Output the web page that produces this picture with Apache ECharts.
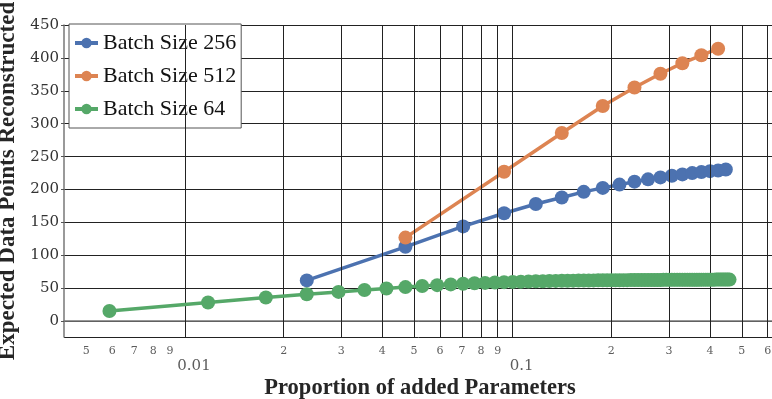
<!DOCTYPE html>
<html>
<head>
<meta charset="utf-8">
<script src="https://cdn.jsdelivr.net/npm/echarts@6/dist/echarts.min.js"></script>
<style>html,body{margin:0;padding:0;background:#fff}#c{width:772px;height:399px}</style>
</head>
<body>
<div id="c"></div>
<script>
// ---- data ----
const seriesNames = ['Batch Size 256', 'Batch Size 512', 'Batch Size 64'];
const colors = ['#4C72B0', '#DD8452', '#55A868'];

const x256 = [0.02353, 0.04706, 0.07059, 0.09412, 0.11765, 0.14118, 0.16471, 0.18824, 0.21176, 0.23529,
              0.25882, 0.28235, 0.30588, 0.32941, 0.35294, 0.37647, 0.4, 0.42353, 0.44706];
const y256 = [62, 113, 144, 164, 178, 188, 196.5, 202.5, 207.5, 212,
              215.5, 218.5, 221, 223, 225, 226.5, 228, 229, 230.5];

const x512 = [0.04706, 0.09412, 0.14118, 0.18824, 0.23529, 0.28235, 0.32941, 0.37647, 0.42353];
const y512 = [127, 227, 286, 327, 355, 376, 392, 404, 414];

const x64 = [0.00588, 0.01176, 0.01765, 0.02353, 0.02941, 0.03529, 0.04118, 0.04706, 0.05294, 0.05882,
             0.06471, 0.07059, 0.07647, 0.08235, 0.08824, 0.09412, 0.1, 0.10588, 0.11176, 0.11765,
             0.12353, 0.12941, 0.13529, 0.14118, 0.14706, 0.15294, 0.15882, 0.16471, 0.17059, 0.17647,
             0.18235, 0.18824, 0.19412, 0.2, 0.20588, 0.21176, 0.21765, 0.22353, 0.22941, 0.23529,
             0.24118, 0.24706, 0.25294, 0.25882, 0.26471, 0.27059, 0.27647, 0.28235, 0.28824, 0.29412,
             0.3, 0.30588, 0.31176, 0.31765, 0.32353, 0.32941, 0.33529, 0.34118, 0.34706, 0.35294,
             0.35882, 0.36471, 0.37059, 0.37647, 0.38235, 0.38824, 0.39412, 0.4, 0.40588, 0.41176,
             0.41765, 0.42353, 0.42941, 0.43529, 0.44118, 0.44706, 0.45294, 0.45882];
const y64 = [15.5, 28.5, 36.0, 41.0, 44.5, 47.3, 49.7, 51.8, 53.4, 54.8,
             55.9, 56.8, 57.6, 58.2, 58.8, 59.3, 59.7, 60.0, 60.3, 60.6,
             60.8, 61.0, 61.2, 61.4, 61.5, 61.6, 61.7, 61.8, 61.9, 62.0,
             62.1, 62.1, 62.2, 62.2, 62.3, 62.3, 62.4, 62.4, 62.5, 62.5,
             62.5, 62.6, 62.6, 62.6, 62.7, 62.7, 62.7, 62.7, 62.8, 62.8,
             62.8, 62.8, 62.9, 62.9, 62.9, 62.9, 62.9, 63.0, 63.0, 63.0,
             63.0, 63.0, 63.0, 63.1, 63.1, 63.1, 63.1, 63.1, 63.1, 63.1,
             63.2, 63.2, 63.2, 63.2, 63.2, 63.2, 63.2, 63.2];

const minorTicks = [0.005, 0.006, 0.007, 0.008, 0.009, 0.02, 0.03, 0.04, 0.05, 0.06, 0.07, 0.08, 0.09,
                    0.2, 0.3, 0.4, 0.5, 0.6];
const minorTickLabels = ['5', '6', '7', '8', '9', '2', '3', '4', '5', '6', '7', '8', '9',
                         '2', '3', '4', '5', '6'];
const majorTicks = [0.01, 0.1];
const majorTickLabels = ['0.01', '0.1'];

const X_MIN = 0.004273, X_MAX = 0.636;
const Y_MIN = -24, Y_MAX = 450;

// ---- chart ----
const chart = echarts.init(document.getElementById('c'), null, {renderer: 'canvas'});
const zip = (xs, ys) => xs.map((x, i) => [x, ys[i]]);
const dataSeries = [[x256, y256], [x512, y512], [x64, y64]].map((d, i) => ({
  name: seriesNames[i],
  type: 'line',
  data: zip(d[0], d[1]),
  symbol: 'circle',
  symbolSize: 14,
  showSymbol: true,
  color: colors[i],
  lineStyle: {width: 3.5, color: colors[i]},
  itemStyle: {color: colors[i]},
  z: 3 + i,
  animation: false
}));

const tickLabelSeries = (ticks, labels, size, dist, dx) => ({
  type: 'scatter',
  silent: true,
  clip: false,
  symbolSize: 0,
  z: 1,
  data: ticks.map((v, i) => ({value: [v, Y_MIN], name: labels[i]})),
  label: {show: true, position: 'bottom', distance: dist, offset: [dx, 0], formatter: p => p.name,
          fontFamily: 'DejaVu Serif', fontSize: size, color: '#333'},
  animation: false
});

const gridSeries = {
  type: 'line',
  data: [],
  silent: true,
  z: 1,
  markLine: {
    silent: true,
    symbol: ['none', 'none'],
    label: {show: false},
    lineStyle: {color: '#222', width: 1, type: 'solid'},
    data: minorTicks.concat(majorTicks).map(v => ({xAxis: v})),
    animation: false
  },
  animation: false
};

chart.setOption({
  animation: false,
  backgroundColor: '#fff',
  grid: {left: 64, top: 25, right: -4, bottom: 62, outerBoundsMode: 'none', containLabel: false},
  legend: {
    data: seriesNames,
    orient: 'vertical',
    left: 69, top: 24,
    backgroundColor: '#fff',
    borderColor: '#555', borderWidth: 1, borderRadius: 0,
    padding: [8, 5, 8, 4],
    itemGap: 11,
    itemWidth: 23, itemHeight: 13,
    lineStyle: {width: 4},
    textStyle: {fontFamily: 'Liberation Serif', fontSize: 22, color: '#111'}
  },
  xAxis: {
    type: 'log',
    min: X_MIN, max: X_MAX,
    name: 'Proportion of added Parameters',
    nameLocation: 'middle',
    nameGap: 40,
    nameTextStyle: {fontFamily: 'Liberation Serif', fontWeight: 'bold', fontSize: 22.5, color: '#262626'},
    axisLine: {show: true, lineStyle: {color: '#777', width: 1.5}},
    axisTick: {show: false},
    axisLabel: {show: false},
    splitLine: {show: false}
  },
  yAxis: {
    type: 'value',
    min: Y_MIN, max: Y_MAX,
    minInterval: 50, maxInterval: 50,
    name: 'Expected Data Points Reconstructed',
    nameLocation: 'middle',
    nameGap: 37,
    nameTextStyle: {fontFamily: 'Liberation Serif', fontWeight: 'bold', fontSize: 23, color: '#262626'},
    axisLine: {show: true, lineStyle: {color: '#777', width: 1.5}},
    axisTick: {show: true, length: 3, lineStyle: {color: '#555'}},
    axisLabel: {showMinLabel: false, margin: 5, fontFamily: 'DejaVu Serif', fontSize: 15, color: '#333',
                formatter: v => (v % 50 === 0 ? String(v) : '')},
    splitLine: {show: true, lineStyle: {color: '#222', width: 1}}
  },
  series: [gridSeries,
           tickLabelSeries(minorTicks, minorTickLabels, 11, 9, 0),
           tickLabelSeries(majorTicks, majorTickLabels, 15, 22, 9)].concat(dataSeries)
});
</script>
</body>
</html>
